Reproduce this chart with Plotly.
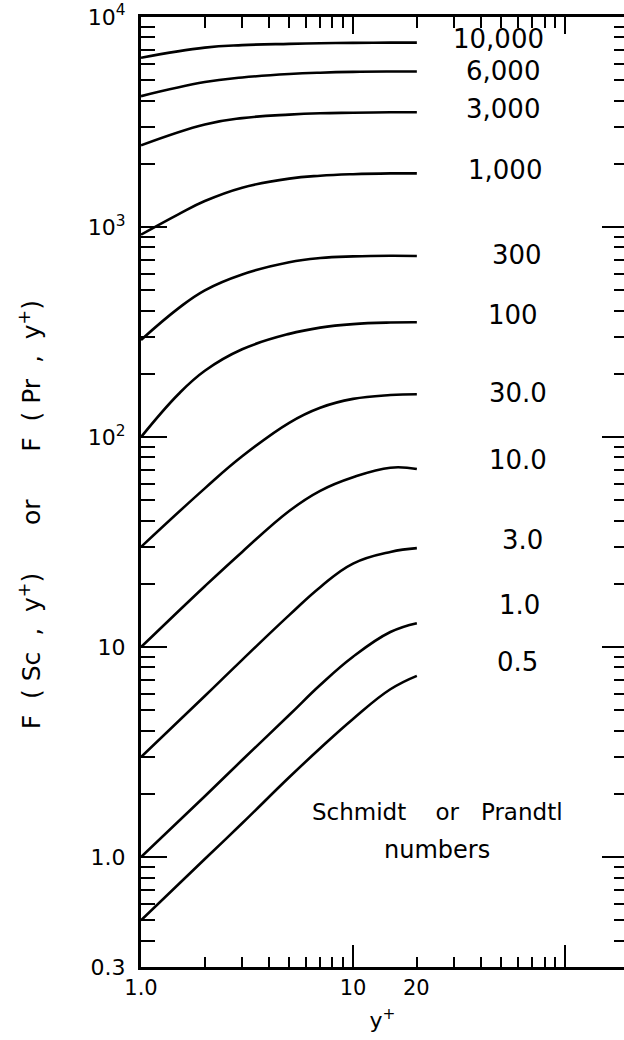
import numpy as np
import plotly.graph_objects as go

# ---- data (y+ and F values) ----
yplus_a = [1, 1.5, 2, 3, 5, 7, 10, 15, 20]
yplus_b = [1, 2, 3, 5, 7, 10, 15, 20]

sc_labels = ["10,000", "6,000", "3,000", "1,000", "300", "100", "30.0", "10.0", "3.0", "1.0", "0.5"]

f_10000 = [6400, 7150, 7350, 7450, 7500, 7530, 7550, 7550]          # on yplus_b
f_6000 = [4200, 4900, 5150, 5350, 5430, 5480, 5500, 5500]           # on yplus_b
f_3000 = [2450, 3080, 3300, 3430, 3480, 3500, 3520, 3520]           # on yplus_b
f_1000 = [920, 1150, 1330, 1540, 1700, 1755, 1785, 1800, 1800]      # on yplus_a
f_300 = [290, 410, 500, 595, 680, 712, 725, 730, 728]               # on yplus_a
f_100 = [100, 160, 207, 262, 310, 332, 345, 351, 352]               # on yplus_a
f_30 = [30, 57, 81, 117, 138, 152, 158.5, 160]                      # on yplus_b
f_10 = [10, 19.5, 28.4, 44.5, 55.5, 64.4, 71.5, 70.5]               # on yplus_b
f_3 = [3, 5.85, 8.7, 14.2, 19.3, 25.0, 28.4, 29.6]                  # on yplus_b
f_1 = [1, 1.95, 2.9, 4.75, 6.6, 9.0, 11.8, 13.0]                    # on yplus_b
f_05 = [0.5, 0.98, 1.45, 2.4, 3.3, 4.55, 6.3, 7.3]                  # on yplus_b

series = [
    (yplus_b, f_10000), (yplus_b, f_6000), (yplus_b, f_3000), (yplus_a, f_1000),
    (yplus_a, f_300), (yplus_a, f_100), (yplus_b, f_30), (yplus_b, f_10),
    (yplus_b, f_3), (yplus_b, f_1), (yplus_b, f_05),
]

# label anchor positions (y+, F) for the curve labels
label_x = [48.3, 51, 51, 52, 59.4, 56.9, 60, 60, 62.7, 61.3, 59.4]
label_y = [7850, 5530, 3650, 1870, 736, 381, 162, 77.7, 32.3, 15.8, 8.48]

y_tickvals = [0.3, 1, 10, 100, 1000, 10000]
y_ticktext = ["0.3", "1.0", "10", "10<sup>2</sup>", "10<sup>3</sup>", "10<sup>4</sup>"]
y_major = [1, 10, 100, 1000, 10000]
y_minor = [v * 10 ** d for d in range(-1, 4) for v in range(2, 10) if v * 10 ** d > 0.3]
x_tickvals = [1, 10, 100]
x_ticktext = ["1.0", "10", ""]
x_minor = [v * 10 ** d for d in range(0, 2) for v in range(2, 10)]

FONT = "DejaVu Sans"
yrange = [np.log10(0.3), 4.0]
xrange = [0, 2.278]

# axis pairs: main (x,y); top/right major ticks (x2,y2); top/right minor ticks (x3,y3)
pairs = [("x2", "y2"), ("x3", "y3")]

fig = go.Figure()
for i, (xs, ys) in enumerate(series):
    xa, ya = pairs[i] if i < len(pairs) else ("x", "y")
    fig.add_trace(go.Scatter(
        x=xs, y=ys, mode="lines", xaxis=xa, yaxis=ya,
        line=dict(color="black", width=2.6, shape="spline", smoothing=1.2),
        showlegend=False, hoverinfo="skip",
    ))

common = dict(showgrid=False, zeroline=False, automargin=False)
tick = dict(tickwidth=2, tickcolor="black")

fig.update_layout(
    template="none",
    width=624, height=1040,
    margin=dict(l=141, r=0, t=17, b=73, autoexpand=False),
    paper_bgcolor="white", plot_bgcolor="white",
    font=dict(family=FONT, color="black", size=22),
    xaxis=dict(
        type="log", range=xrange, **common,
        showline=True, linewidth=3, linecolor="black",
        ticks="inside", ticklen=22, **tick,
        tickvals=x_tickvals, ticktext=x_ticktext,
        tickfont=dict(size=21, family=FONT),
        minor=dict(tickvals=x_minor, ticks="inside", ticklen=10, **tick),
        title=dict(text="y<sup>+</sup>", font=dict(size=22, family=FONT), standoff=14),
    ),
    yaxis=dict(
        type="log", range=yrange, **common,
        showline=True, linewidth=3, linecolor="black",
        ticks="inside", ticklen=26, **tick,
        tickvals=y_tickvals, ticktext=y_ticktext,
        tickfont=dict(size=22, family=FONT), ticklabelstandoff=8,
        minor=dict(tickvals=y_minor, ticks="inside", ticklen=14, **tick),
    ),
    xaxis2=dict(
        type="log", range=xrange, overlaying="x", side="top", anchor="y2", **common,
        showline=True, linewidth=3, linecolor="black", showticklabels=False,
        ticks="inside", ticklen=17, **tick, tickvals=x_tickvals,
    ),
    yaxis2=dict(
        type="log", range=yrange, overlaying="y", side="right", anchor="x2", **common,
        showline=False, showticklabels=False,
        ticks="inside", ticklen=22, **tick, tickvals=y_major,
    ),
    xaxis3=dict(
        type="log", range=xrange, overlaying="x", side="top", anchor="y3", **common,
        showline=False, showticklabels=False,
        ticks="inside", ticklen=11, **tick, tickvals=x_minor,
    ),
    yaxis3=dict(
        type="log", range=yrange, overlaying="y", side="right", anchor="x3", **common,
        showline=False, showticklabels=False,
        ticks="inside", ticklen=10, **tick, tickvals=y_minor,
    ),
)

# curve labels
for lab, lx, ly in zip(sc_labels, label_x, label_y):
    fig.add_annotation(x=np.log10(lx), y=np.log10(ly), xref="x", yref="y", text=lab,
                       showarrow=False, font=dict(size=26, family=FONT, color="black"))

# extra x tick label "20"
fig.add_annotation(x=np.log10(20), y=0, xref="x", yref="paper", text="20", showarrow=False,
                   yanchor="top", yshift=-7, font=dict(size=21, family=FONT, color="black"))

# legend-like text
nb = "&nbsp;"
fig.add_annotation(x=np.log10(24.9), y=np.log10(1.64), xref="x", yref="y",
                   text="Schmidt" + nb * 4 + "or" + nb * 3 + "Prandtl",
                   showarrow=False, font=dict(size=23, family=FONT, color="black"))
fig.add_annotation(x=np.log10(24.9), y=np.log10(1.08), xref="x", yref="y", text="numbers",
                   showarrow=False, font=dict(size=24, family=FONT, color="black"))

# y-axis title
part1 = "F" + nb * 2 + "(" + nb + "Sc" + nb * 2 + "," + nb * 2 + "y<sup>+</sup>)"
part2 = "F" + nb * 2 + "(" + nb + "Pr" + nb * 2 + "," + nb * 2 + "y<sup>+</sup>)"
fig.add_annotation(x=-0.2298, xref="paper", y=0.476, yref="paper", xshift=-18,
                   text=part1 + nb * 6 + "or" + nb * 6 + part2,
                   showarrow=False, textangle=-90, font=dict(size=25, family=FONT, color="black"))

fig.write_html("out.html", config={"displayModeBar": False},
               post_script="document.body.style.margin='0px';document.body.style.overflow='hidden';")
